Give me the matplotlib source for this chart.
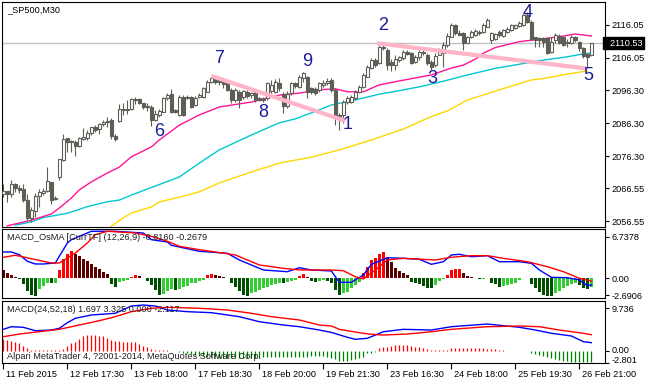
import numpy as np
import matplotlib.pyplot as plt
from matplotlib.transforms import blended_transform_factory, ScaledTranslation

# -----------------------------------------------------------------------------
# Datos (_SP500, M30)
# -----------------------------------------------------------------------------
aperturas = [
    2064.9, 2065.7, 2064.9, 2067.8, 2066.6, 2066.4, 2062.9, 2057.7, 2059.7, 2064.2,
    2065.2, 2065.8, 2068.4, 2063.7, 2069.9, 2075.0, 2081.7, 2080.9, 2080.7, 2079.5,
    2081.5, 2081.9, 2083.4, 2085.0, 2084.4, 2086.0, 2086.6, 2087.3, 2082.5, 2087.0,
    2090.4, 2090.4, 2090.5, 2093.3, 2093.6, 2092.3, 2091.6, 2091.3, 2087.3, 2088.8,
    2089.8, 2093.8, 2095.0, 2090.3, 2088.8, 2094.3, 2094.3, 2094.3, 2091.8, 2094.2,
    2094.3, 2095.8, 2098.7, 2099.7, 2099.4, 2099.1, 2098.4, 2096.4, 2093.3, 2095.8,
    2094.3, 2095.8, 2094.8, 2095.6, 2094.0, 2093.6, 2093.8, 2096.0, 2095.8, 2098.4,
    2095.0, 2091.6, 2095.3, 2098.4, 2097.3, 2099.9, 2100.2, 2096.9, 2096.6, 2096.4,
    2097.9, 2098.4, 2099.4, 2096.4, 2088.8, 2088.8, 2092.8, 2092.8, 2093.8, 2095.7,
    2097.4, 2100.4, 2102.9, 2105.4, 2104.4, 2109.0, 2108.5, 2104.9, 2103.9, 2105.4,
    2105.9, 2107.9, 2107.5, 2104.9, 2106.3, 2107.5, 2107.0, 2104.9, 2103.9, 2106.9,
    2107.5, 2110.0, 2112.5, 2116.0, 2113.6, 2113.7, 2110.7, 2112.3, 2113.0, 2113.5,
    2114.0, 2115.5, 2111.5, 2111.7, 2114.0, 2112.7, 2114.0, 2114.5, 2115.0, 2115.7,
    2116.0, 2119.1, 2117.0, 2112.3, 2112.0, 2112.0, 2112.0, 2108.0, 2111.5, 2112.7,
    2112.3, 2111.0, 2110.5, 2112.5, 2111.0, 2109.0, 2107.3, 2106.9]
maximos = [
    2067.8, 2065.8, 2069.0, 2068.1, 2067.6, 2067.8, 2064.9, 2060.9, 2065.0, 2066.4,
    2066.8, 2073.0, 2068.6, 2064.2, 2075.4, 2082.9, 2081.8, 2081.2, 2081.2, 2082.0,
    2084.7, 2084.2, 2085.2, 2085.7, 2086.3, 2087.3, 2088.1, 2087.8, 2083.0, 2092.0,
    2092.3, 2093.3, 2094.0, 2094.3, 2094.0, 2092.3, 2092.3, 2091.8, 2090.3, 2090.6,
    2094.3, 2095.3, 2096.6, 2090.6, 2094.8, 2094.8, 2094.8, 2094.6, 2094.5, 2095.3,
    2097.4, 2099.4, 2100.4, 2100.1, 2099.9, 2099.4, 2098.9, 2096.9, 2096.9, 2096.4,
    2096.4, 2096.4, 2095.6, 2096.0, 2094.3, 2094.3, 2098.9, 2099.4, 2099.6, 2100.1,
    2095.6, 2096.0, 2098.7, 2098.7, 2100.9, 2101.9, 2100.6, 2097.4, 2097.4, 2098.9,
    2099.4, 2099.9, 2099.9, 2096.9, 2089.3, 2093.3, 2094.6, 2094.8, 2096.4, 2098.0,
    2101.4, 2103.9, 2106.0, 2105.9, 2110.0, 2110.0, 2109.0, 2105.6, 2107.0, 2106.6,
    2108.5, 2108.5, 2108.0, 2106.9, 2108.5, 2108.7, 2107.5, 2105.4, 2107.5, 2109.0,
    2111.0, 2113.5, 2116.6, 2116.4, 2114.5, 2114.0, 2112.7, 2114.5, 2114.7, 2114.5,
    2116.6, 2118.1, 2114.0, 2113.7, 2114.5, 2114.7, 2115.3, 2116.4, 2116.4, 2117.1,
    2119.4, 2120.1, 2117.6, 2112.5, 2112.5, 2112.5, 2112.3, 2112.5, 2113.5, 2113.3,
    2112.7, 2111.7, 2113.0, 2112.7, 2111.3, 2109.5, 2107.7, 2110.7]
minimos = [
    2064.0, 2062.3, 2064.0, 2065.5, 2065.0, 2062.5, 2057.0, 2056.4, 2058.0, 2060.8,
    2064.5, 2065.3, 2061.8, 2062.9, 2069.0, 2074.8, 2077.7, 2077.7, 2076.4, 2079.2,
    2081.2, 2081.2, 2082.7, 2083.7, 2082.9, 2085.5, 2085.2, 2081.6, 2080.9, 2086.7,
    2088.8, 2089.0, 2090.3, 2092.0, 2092.0, 2090.6, 2089.9, 2085.5, 2086.9, 2088.2,
    2089.6, 2093.3, 2089.3, 2089.3, 2088.5, 2088.5, 2093.6, 2091.0, 2091.5, 2093.8,
    2094.0, 2095.7, 2098.4, 2098.1, 2097.9, 2096.9, 2096.0, 2092.3, 2092.6, 2090.8,
    2093.6, 2093.9, 2093.8, 2092.6, 2092.9, 2092.6, 2093.3, 2095.3, 2095.3, 2096.0,
    2089.3, 2091.0, 2094.8, 2097.0, 2096.9, 2098.9, 2093.8, 2095.2, 2094.9, 2095.8,
    2097.4, 2097.9, 2095.8, 2085.7, 2084.2, 2086.3, 2092.0, 2092.3, 2093.3, 2095.3,
    2097.0, 2100.2, 2102.6, 2103.4, 2104.2, 2108.5, 2102.4, 2102.2, 2102.4, 2104.9,
    2105.4, 2106.8, 2104.2, 2104.4, 2105.4, 2107.0, 2103.9, 2102.4, 2103.4, 2106.8,
    2103.4, 2109.5, 2112.3, 2112.9, 2113.0, 2108.5, 2110.5, 2112.0, 2112.7, 2113.0,
    2113.7, 2115.3, 2110.5, 2111.5, 2112.5, 2112.5, 2113.5, 2114.3, 2114.7, 2115.5,
    2115.7, 2116.6, 2111.5, 2109.5, 2109.3, 2109.5, 2107.3, 2107.7, 2110.5, 2110.3,
    2109.7, 2109.5, 2110.3, 2111.0, 2108.3, 2105.9, 2102.9, 2106.6]
cierres = [
    2065.7, 2064.9, 2067.8, 2066.6, 2066.0, 2062.9, 2057.7, 2060.0, 2064.2, 2065.5,
    2065.8, 2068.7, 2063.1, 2063.2, 2075.4, 2081.5, 2080.5, 2080.5, 2079.4, 2081.7,
    2082.2, 2083.4, 2085.0, 2084.3, 2086.0, 2086.7, 2087.0, 2082.5, 2081.4, 2090.6,
    2090.6, 2090.6, 2093.6, 2093.6, 2092.3, 2091.3, 2091.2, 2087.3, 2089.0, 2090.0,
    2094.0, 2094.8, 2089.8, 2089.6, 2094.3, 2088.8, 2094.0, 2091.3, 2094.0, 2094.8,
    2096.9, 2098.9, 2099.9, 2098.9, 2098.7, 2098.3, 2096.4, 2093.3, 2096.4, 2093.3,
    2096.0, 2094.6, 2095.3, 2093.3, 2093.3, 2093.3, 2098.4, 2098.0, 2098.9, 2096.9,
    2091.5, 2095.0, 2098.4, 2097.6, 2100.4, 2101.4, 2095.8, 2095.8, 2095.5, 2098.4,
    2098.6, 2099.2, 2096.4, 2088.3, 2088.3, 2092.8, 2093.8, 2094.3, 2095.8, 2097.4,
    2100.9, 2103.4, 2105.4, 2103.9, 2109.5, 2109.5, 2103.9, 2103.9, 2105.6, 2106.2,
    2107.9, 2107.3, 2104.4, 2106.4, 2107.9, 2107.9, 2104.6, 2103.4, 2106.7, 2107.9,
    2110.0, 2112.7, 2116.0, 2113.5, 2113.1, 2110.7, 2112.3, 2114.0, 2114.3, 2114.0,
    2116.0, 2117.4, 2113.5, 2113.3, 2113.0, 2114.5, 2114.7, 2116.0, 2116.0, 2116.6,
    2119.1, 2117.0, 2111.7, 2111.5, 2111.5, 2111.0, 2107.5, 2111.0, 2113.0, 2110.5,
    2110.0, 2110.5, 2112.5, 2111.5, 2109.0, 2106.6, 2106.4, 2110.53]

# medias móviles (muestras: barra, precio)
ma_rapida_barras = [1, 7, 12, 14, 17, 19, 22, 26, 29, 32, 37, 39, 44, 49, 54, 62, 66, 69,
                    74, 79, 83, 86, 90, 94, 99, 107, 112, 115, 118, 120, 123, 129, 134,
                    139, 143, 147]
ma_rapida = [2055.2, 2056.9, 2058.8, 2060.6, 2063.6, 2066.1, 2068.5, 2071.2, 2073.0,
             2076.1, 2079.1, 2081.2, 2085.7, 2088.8, 2091.2, 2092.7, 2093.9, 2094.8,
             2095.4, 2096.4, 2096.7, 2095.8, 2095.8, 2097.9, 2099.1, 2100.9, 2103.0,
             2103.9, 2105.7, 2107.5, 2109.2, 2111.0, 2111.7, 2112.5, 2113.3, 2112.7]
ma_media_barras = [3, 7, 10, 16, 21, 26, 29, 32, 37, 44, 49, 54, 62, 69, 73, 77, 82, 86,
                   91, 94, 97, 104, 110, 116, 123, 135, 141, 145, 147]
ma_media = [2055.4, 2056.4, 2057.7, 2059.0, 2061.0, 2062.5, 2063.0, 2064.5, 2066.8,
            2070.0, 2074.2, 2078.2, 2082.7, 2086.4, 2087.6, 2089.4, 2091.8, 2092.8,
            2094.2, 2095.1, 2095.7, 2097.3, 2099.0, 2100.9, 2102.9, 2105.4, 2106.4,
            2107.3, 2107.6]
ma_lenta_barras = [27, 30, 32, 37, 39, 46, 49, 54, 62, 69, 77, 84, 92, 97, 100, 107, 111,
                   116, 124, 132, 135, 141, 146]
ma_lenta = [2055.1, 2057.6, 2059.1, 2060.9, 2062.4, 2064.5, 2065.5, 2068.2, 2071.5,
            2074.2, 2076.0, 2078.2, 2081.2, 2083.3, 2084.5, 2088.3, 2090.0, 2093.3,
            2096.4, 2099.4, 2099.8, 2101.2, 2102.1]

# líneas de tendencia (rosa) y etiquetas de ondas
tendencia_barras = [[52, 85.5], [93.5, 145.5]]
tendencia_precios = [[2100.6, 2087.0], [2110.5, 2102.9]]
ondas = ['6', '7', '8', '9', '1', '2', '3', '4', '5']
ondas_barras = [39, 54, 65, 76, 86, 95, 107.2, 131, 146.2]
ondas_precios = [2083.7, 2106.0, 2089.4, 2104.9, 2086.0, 2116.0, 2099.7, 2119.8, 2100.6]

# MACD_OsMA (12,26,9)
osma_hist = [
    1.35, 0.81, 0.49, 0.21, -0.16, -0.97, -2.05, -2.7, -2.8, -1.78,
    -1.25, -0.7, -0.81, -0.7, 1.3, 3.08, 3.89, 4.42, 4.0, 3.61,
    3.24, 2.8, 2.38, 1.83, 1.46, 1.02, 0.65, -0.86, -1.41, -0.6,
    -0.44, -0.28, 0.28, 0.49, 0.37, 0.11, -0.44, -1.09, -1.9, -2.6,
    -2.45, -2.05, -1.73, -1.8, -1.73, -1.35, -1.19, -0.81, -0.65, -0.43,
    -0.27, 0.54, 0.65, 0.54, 0.43, 0.27, 0.05, -0.65, -1.35, -2.05,
    -2.6, -2.8, -2.43, -2.16, -1.89, -1.62, -1.35, -1.08, -0.86, -0.65,
    -0.81, -0.54, -0.43, -0.27, 0.43, 0.65, 0.27, -0.43, -0.54, -0.43,
    -0.27, -0.43, -0.81, -1.89, -2.7, -2.43, -2.16, -1.62, -1.08, -0.54,
    0.81, 1.89, 2.97, 3.35, 4.05, 4.32, 3.35, 2.7, 1.73, 1.19,
    0.81, 0.54, -0.54, -0.65, -0.97, -1.19, -1.51, -1.62, -1.08, -0.43,
    -0.11, 0.54, 1.35, 1.51, 1.57, 0.81, 0.43, 0.22, 0.11, -0.11,
    -0.05, 0.11, -0.65, -0.97, -1.35, -1.24, -1.08, -0.86, -0.65, -0.32,
    0.11, 0.05, -0.97, -1.62, -2.16, -2.6, -2.8, -2.85, -2.43, -2.05,
    -1.62, -1.19, -0.97, -0.65, -1.08, -1.51, -1.73, -1.35]
osma_azul_barras = [0, 2, 4, 6, 8, 10, 13, 14, 16, 17, 19, 22, 28, 35, 37, 41, 42, 49, 56,
                    59, 65, 71, 74, 77, 82, 84, 87, 90, 92, 96, 100, 104, 107, 110, 112,
                    114, 117, 121, 124, 129, 132, 134, 137, 141, 144, 146, 147]
osma_azul = [4.3, 4.3, 3.86, 2.79, 2.35, 2.35, 2.51, 3.6, 5.75, 6.29, 6.84, 7.65, 7.65,
             7.37, 6.29, 5.92, 5.38, 4.41, 4.08, 3.0, 1.38, 1.1, 1.75, 1.38, 1.22, -0.62,
             -0.62, 0.57, 2.3, 3.37, 3.27, 3.11, 2.3, 2.72, 3.81, 3.92, 3.53, 3.7, 2.72,
             2.72, 2.46, 1.38, 0.19, 0.13, -0.24, -1.17, -1.05]
osma_roja_barras = [0, 3, 7, 12, 14, 18, 21, 23, 26, 33, 37, 41, 44, 49, 58, 64, 70, 74,
                    82, 85, 88, 90, 93, 96, 100, 108, 112, 117, 121, 125, 131, 136, 140,
                    144, 147]
osma_roja = [3.44, 3.76, 3.21, 2.51, 2.51, 4.13, 5.75, 7.1, 7.65, 7.37, 6.84, 6.03, 5.22,
             4.67, 3.81, 2.19, 1.65, 1.38, 1.38, 1.26, 0.29, -0.08, 1.38, 3.0, 3.27, 3.0,
             3.44, 3.7, 3.7, 3.27, 2.72, 1.91, 1.1, 0.03, -0.41]

# MACD (24,52,18)
macd_hist = [
    2.68, 2.53, 2.3, 2.07, 1.76, 1.15, 0.53, 0.25, 0.2, 0.15,
    0.12, 0.1, 0.12, 0.15, 0.2, 0.35, 1.15, 1.68, 2.07, 2.68,
    3.29, 3.6, 3.6, 3.6, 3.44, 3.29, 2.83, 2.53, 2.3, 2.3,
    2.07, 2.07, 2.07, 1.91, 1.53, 1.15, 0.77, 0.38, 0.2, 0.15,
    0.1, 0.05, -0.05, -0.1, -0.3, -0.45, -0.6, -0.8, -0.95, -1.1,
    -1.25, -1.4, -1.5, -1.55, -1.6, -1.6, -1.6, -1.6, -1.6, -1.6,
    -1.6, -1.6, -1.6, -1.6, -1.6, -1.55, -1.55, -1.5, -1.5, -1.5,
    -1.45, -1.45, -1.45, -1.4, -1.4, -1.4, -1.35, -1.3, -1.25, -1.2,
    -1.22, -1.38, -1.76, -1.99, -2.3, -2.3, -2.3, -2.14, -1.99, -1.76,
    -1.38, -0.61, -0.46, -0.2, 0.54, 0.77, 0.92, 1.07, 1.22, 1.3,
    1.3, 1.3, 1.07, 0.92, 0.77, 0.54, 0.31, 0.15, 0.15, 0.15,
    0.15, 0.15, 0.54, 0.54, 0.54, 0.54, 0.54, 0.54, 0.54, 0.54,
    0.54, 0.46, 0.4, 0.31, 0.15, 0.05, 0.02, -0.02, -0.05, -0.15,
    -0.05, -0.1, -0.61, -0.77, -1.0, -1.22, -1.53, -1.76, -1.99, -2.14,
    -2.3, -2.37, -2.53, -2.53, -2.53, -2.53, -2.53, -2.53]
macd_azul_barras = [0, 2, 5, 8, 12, 14, 16, 18, 22, 28, 32, 35, 38, 41, 46, 52, 59, 64,
                    70, 74, 79, 82, 86, 88, 91, 93, 95, 100, 107, 112, 121, 129, 133,
                    137, 142, 145, 147]
macd_azul = [4.91, 5.51, 5.37, 4.59, 4.75, 5.14, 6.43, 7.44, 8.2, 8.59, 10.26, 10.49,
             10.26, 9.35, 8.96, 8.73, 7.81, 6.66, 5.9, 5.51, 4.75, 4.2, 3.08, 2.62, 2.85,
             3.6, 4.36, 4.91, 4.75, 5.51, 6.13, 5.37, 4.75, 4.0, 3.38, 2.07, 1.84]
macd_roja_barras = [0, 4, 9, 14, 19, 24, 28, 32, 37, 41, 49, 56, 62, 67, 74, 79, 82, 84,
                    89, 92, 95, 101, 107, 112, 121, 129, 134, 139, 145, 147]
macd_roja = [3.21, 3.83, 4.36, 4.91, 5.9, 6.89, 7.81, 8.96, 9.74, 9.97, 9.74, 9.35, 8.59,
             7.81, 7.05, 5.9, 5.67, 4.91, 4.13, 3.77, 3.6, 3.83, 4.36, 4.91, 5.51, 5.67,
             5.51, 4.75, 4.0, 3.67]

# eje de tiempo
fechas_barras = [0, 16, 32, 48, 64, 80, 96, 112, 128, 144]
fechas = ['11 Feb 2015', '12 Feb 17:30', '13 Feb 18:00', '17 Feb 18:30', '18 Feb 20:00',
          '19 Feb 21:30', '23 Feb 16:30', '24 Feb 18:00', '25 Feb 19:30', '26 Feb 21:00']
precios_ticks = [2116.05, 2106.05, 2096.30, 2086.30, 2076.30, 2066.55, 2056.55]
osma_ticks = [6.7378, 0.0, -2.6906]
osma_etiquetas = ['6.7378', '0.00', '-2.6906']
macd_ticks = [9.736, 0.0, -2.801]
macd_etiquetas = ['9.736', '0.00', '-2.801']

# -----------------------------------------------------------------------------
W, H = 648, 383
FUENTE = 'Liberation Sans'
TAM = 6.6
COL_VELA = '#5e5e56'
plt.rcParams['font.family'] = [FUENTE, 'DejaVu Sans']


def caja(l, t, r, b):
    # rectángulo en píxeles -> fracción de figura
    return [l / W, 1 - b / H, (r - l) / W, (b - t) / H]


def preparar_eje(ax):
    for s in ax.spines.values():
        s.set_color('black')
        s.set_linewidth(0.8)
    ax.yaxis.tick_right()
    ax.tick_params(axis='y', direction='out', length=3, width=0.8, pad=2,
                   labelsize=TAM, colors='black')
    ax.tick_params(axis='x', length=0, labelbottom=False)
    ax.set_xlim(-0.33, 150.4)


def dibujar_velas(ax):
    o = np.array(aperturas)
    h = np.array(maximos)
    l = np.array(minimos)
    c = np.array(cierres)
    x = np.arange(len(c))
    ax.vlines(x, l, h, color=COL_VELA, lw=0.8, zorder=3)
    alcista = c >= o
    base = np.minimum(o, c)
    alto = np.maximum(np.abs(c - o), 0.2)
    ax.bar(x[alcista], alto[alcista], bottom=base[alcista], width=0.6,
           facecolor='white', edgecolor=COL_VELA, linewidth=0.8, zorder=4)
    ax.bar(x[~alcista], alto[~alcista], bottom=base[~alcista], width=0.6,
           facecolor=COL_VELA, edgecolor=COL_VELA, linewidth=0.8, zorder=4)


def colores_osma(vals):
    cols = []
    prev = vals[0] + 1
    for v in vals:
        if v >= 0:
            cols.append('#ff0000' if v >= prev else '#5a0000')
        else:
            cols.append('#004f00' if v <= prev else '#32cd32')
        prev = v
    return cols


fig = plt.figure(figsize=(W / 100, H / 100), dpi=100)
fig.patch.set_facecolor('white')
ax1 = fig.add_axes(caja(2, 2, 605, 227))
ax2 = fig.add_axes(caja(2, 229, 605, 298))
ax3 = fig.add_axes(caja(2, 301, 605, 363))
for ax in (ax1, ax2, ax3):
    preparar_eje(ax)

# --- panel principal ---
ax1.set_ylim(2054.84, 2123.0)
ax1.axhline(cierres[-1], color='#c0c0c0', lw=1, zorder=1)
ax1.plot(ma_lenta_barras, ma_lenta, color='#ffd700', lw=1, zorder=2)
ax1.plot(ma_media_barras, ma_media, color='#00c8d2', lw=1, zorder=2)
ax1.plot(ma_rapida_barras, ma_rapida, color='#ff1493', lw=1, zorder=2)
dibujar_velas(ax1)
for xb, yp in zip(tendencia_barras, tendencia_precios):
    ax1.plot(xb, yp, color='#ffb4c8', lw=3, solid_capstyle='butt', zorder=5)
for t, xb, yp in zip(ondas, ondas_barras, ondas_precios):
    ax1.text(xb, yp, t, color='#1c1c96', fontsize=13, ha='center', va='center',
             family=FUENTE, zorder=6)
ax1.set_yticks(precios_ticks)
ax1.set_yticklabels([f'{p:.2f}' for p in precios_ticks])
ax1.text(0.008, 0.964, '_SP500,M30', transform=ax1.transAxes, fontsize=TAM,
         ha='left', va='center', color='black')
tr = blended_transform_factory(ax1.transAxes, ax1.transData)
ax1.text(1.0, cierres[-1], f'  {cierres[-1]:.2f}', transform=tr, ha='left',
         va='center', fontsize=TAM, color='white', clip_on=False,
         bbox=dict(boxstyle='square,pad=0.18', fc='black', ec='black'))

# --- MACD_OsMA ---
ax2.set_ylim(-3.16, 8.02)
ax2.bar(np.arange(len(osma_hist)), osma_hist, width=0.75,
        color=colores_osma(osma_hist), linewidth=0, zorder=2)
ax2.plot(osma_azul_barras, osma_azul, color='#0000ff', lw=1, zorder=3)
ax2.plot(osma_roja_barras, osma_roja, color='#ff0000', lw=1, zorder=3)
ax2.set_yticks(osma_ticks)
ax2.set_yticklabels(osma_etiquetas)
ax2.text(0.008, 0.884, 'MACD_OsMA [CurrTF] (12,26,9) -0.8160 -0.2679',
         transform=ax2.transAxes, fontsize=TAM, ha='left', va='center',
         color='#202020', zorder=5)

# --- MACD ---
ax3.set_ylim(-2.82, 11.41)
mh = np.array(macd_hist)
xh = np.arange(len(mh))
ax3.vlines(xh[mh >= 0], 0, mh[mh >= 0], color='#ff0000', lw=0.9, zorder=2)
ax3.vlines(xh[mh < 0], 0, mh[mh < 0], color='#008000', lw=0.9, zorder=2)
ax3.plot(macd_azul_barras, macd_azul, color='#0000ff', lw=1, zorder=3)
ax3.plot(macd_roja_barras, macd_roja, color='#ff0000', lw=1, zorder=3)
ax3.set_yticks(macd_ticks)
ax3.set_yticklabels(macd_etiquetas)
etiq = ax3.get_yticklabels()
etiq[1].set_va('top')
etiq[1].set_transform(etiq[1].get_transform()
                      + ScaledTranslation(0, 4.5 / 100, fig.dpi_scale_trans))
etiq[-1].set_va('baseline')
ax3.text(0.008, 0.855, 'MACD(24,52,18) 1.697 3.325 0.000 -2.117',
         transform=ax3.transAxes, fontsize=TAM, ha='left', va='center',
         color='#202020', zorder=5)
ax3.text(0.008, 0.10, 'Alpari MetaTrader 4, ?2001-2014, MetaQuotes Software Corp.',
         transform=ax3.transAxes, fontsize=TAM, ha='left', va='center',
         color='#202020', zorder=5)

ax3.set_xticks(fechas_barras)
ax3.set_xticklabels(fechas)
ax3.tick_params(axis='x', length=4, width=0.8, pad=1, labelbottom=True,
                labelsize=TAM, colors='black', direction='out')
desplaza = ScaledTranslation(3 / 100, 0, fig.dpi_scale_trans)
for lbl in ax3.get_xticklabels():
    lbl.set_ha('left')
    lbl.set_transform(lbl.get_transform() + desplaza)

fig.savefig('out.png', dpi=100, facecolor='white')
